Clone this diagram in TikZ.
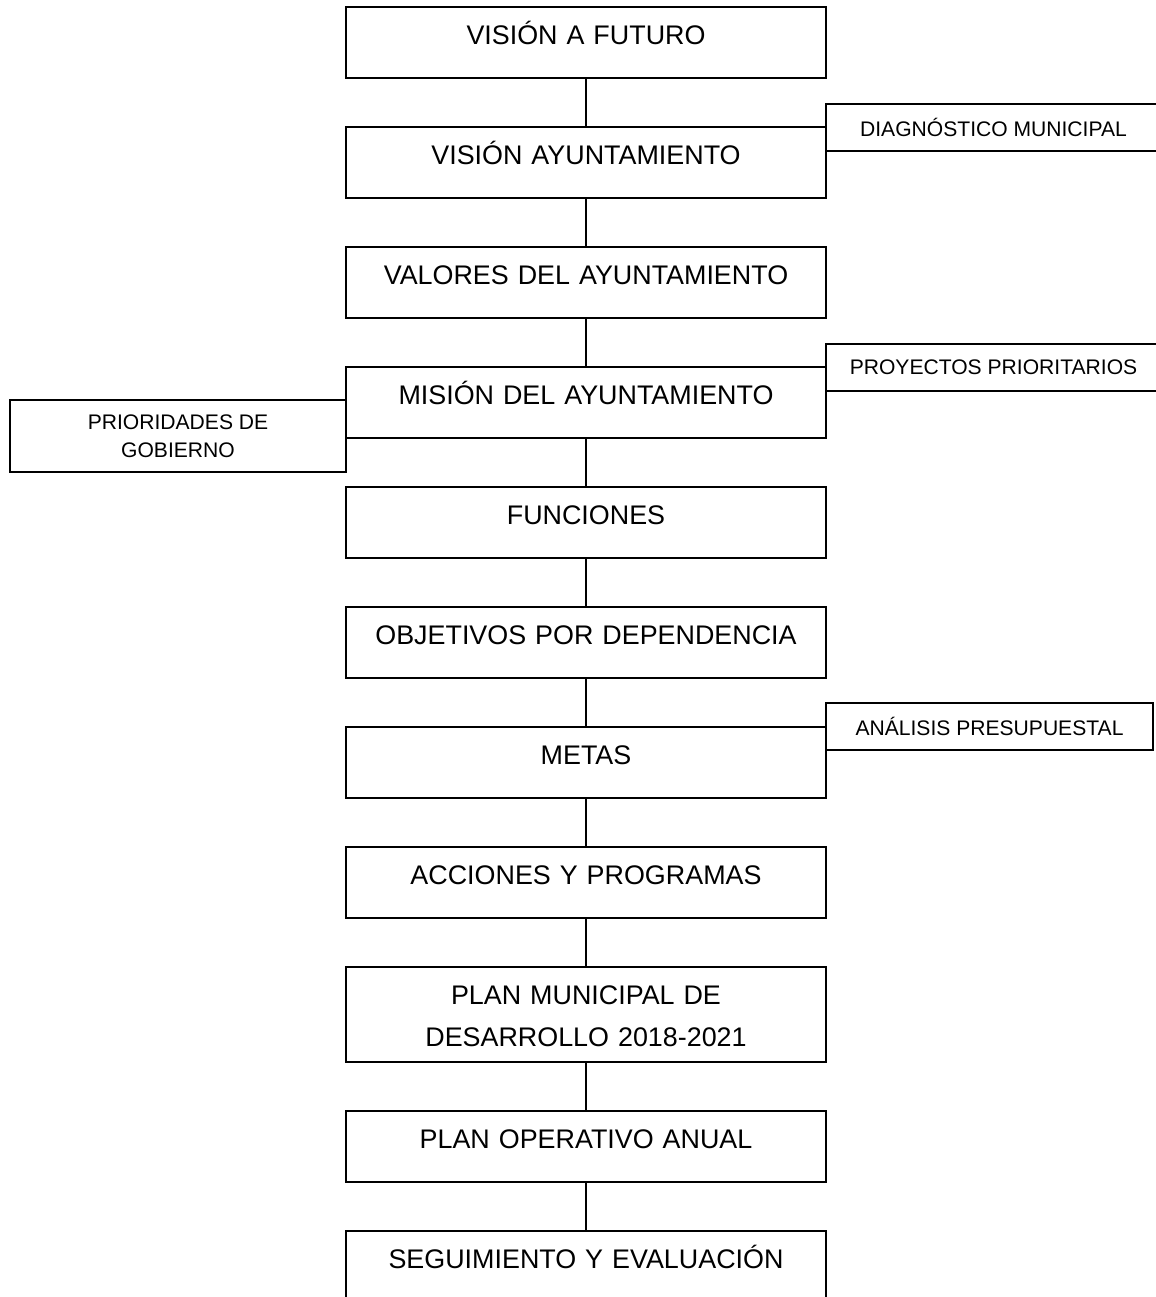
\documentclass[tikz,border=0pt]{standalone}
\usepackage{fontspec}
\setmainfont{Liberation Sans}
\usetikzlibrary{positioning}

\begin{document}
\begin{tikzpicture}[draw=black, line width=1.1pt, node distance=0.98cm]
    \tikzstyle{block}=[draw=black, rectangle, outer sep=0pt, minimum width=9.6cm, text width=9.4cm, align=center, inner xsep=0.1cm, inner ysep=0pt, text height=0.74cm, text depth=0.68cm, font=\fontsize{15.3}{24}\selectfont]
    \tikzstyle{tallblock}=[block, text depth=1.16cm]
    \tikzstyle{side}=[draw=black, rectangle, outer sep=0pt, minimum width=6.7cm, minimum height=0.94cm, inner sep=0pt, align=center, font=\fontsize{12}{16}\selectfont]

    \useasboundingbox (0,0) rectangle (23.12,-25.94);
    \clip (0,0) rectangle (23.12,-25.94);

    \node[block, anchor=north] (vfut) at (11.72,-0.14) {VISIÓN A FUTURO};
    \node[block, below=of vfut] (vayun) {VISIÓN AYUNTAMIENTO};
    \node[block, below=of vayun] (valor) {VALORES DEL AYUNTAMIENTO};
    \node[block, below=of valor] (mision) {MISIÓN DEL AYUNTAMIENTO};
    \node[block, below=of mision] (func) {FUNCIONES};
    \node[block, below=of func] (obj) {OBJETIVOS POR DEPENDENCIA};
    \node[block, below=of obj] (metas) {METAS};
    \node[block, below=of metas] (acc) {ACCIONES Y PROGRAMAS};
    \node[tallblock, below=of acc] (pmd) {PLAN MUNICIPAL DE\\DESARROLLO 2018-2021};
    \node[block, below=of pmd] (poa) {PLAN OPERATIVO ANUAL};
    \node[block, below=of poa] (seg) {SEGUIMIENTO Y EVALUACIÓN};

    % side boxes
    \node[side, anchor=north west] (diag) at ([yshift=0.46cm]vayun.north east) {DIAGNÓSTICO MUNICIPAL};
    \node[side, anchor=north west] (proy) at ([yshift=0.46cm]mision.north east) {PROYECTOS PRIORITARIOS};
    \node[side, anchor=north west, minimum width=6.54cm] (presu) at ([yshift=0.48cm]metas.north east) {ANÁLISIS PRESUPUESTAL};
    \node[side, anchor=north east, minimum width=6.72cm, minimum height=1.44cm] (prio) at ([yshift=-0.66cm]mision.north west) {PRIORIDADES DE\\GOBIERNO};

    \path (vfut) edge (vayun);
    \path (vayun) edge (valor);
    \path (valor) edge (mision);
    \path (mision) edge (func);
    \path (func) edge (obj);
    \path (obj) edge (metas);
    \path (metas) edge (acc);
    \path (acc) edge (pmd);
    \path (pmd) edge (poa);
    \path (poa) edge (seg);
\end{tikzpicture}
\end{document}
